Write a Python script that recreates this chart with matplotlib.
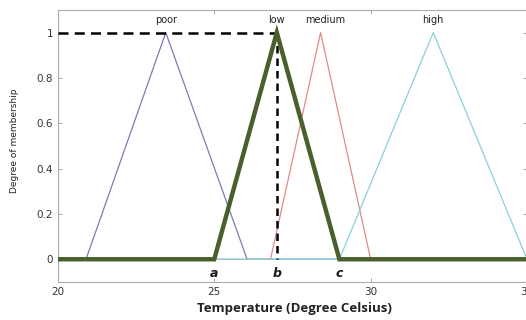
import numpy as np
import matplotlib
matplotlib.use('Agg')
import matplotlib.pyplot as plt

# membership functions (a, peak, c) in degrees Celsius
x_range = [20, 35]
mf_names = ['poor', 'low', 'medium', 'high']
mf_params = [[20.9, 23.45, 26.05], [25, 27, 29], [26.8, 28.4, 30], [29, 32, 35]]
mf_colors = ['#7b7bb8', '#4b5f2c', '#e08a8a', '#86d2dc']
point_labels = ['a', 'b', 'c']
y_ticks = [0, 0.2, 0.4, 0.6, 0.8, 1]
x_ticks = [20, 25, 30, 35]


def tri_points(p):
	a, b, c = p
	xs = [x_range[0], a, b, c, x_range[1]]
	ys = [0, 0, 1, 0, 0]
	return xs, ys


fig = plt.figure(figsize=(5.26, 3.2), dpi=100)
ax = fig.add_axes([0.110, 0.119, 0.892, 0.850])

# thin triangles first, thick "low" on top
order = [0, 2, 3, 1]
for i in order:
	xs, ys = tri_points(mf_params[i])
	if mf_names[i] == 'low':
		ax.plot(xs, ys, color=mf_colors[i], lw=3.2, zorder=4, solid_joinstyle='miter')
	else:
		ax.plot(xs, ys, color=mf_colors[i], lw=0.9, zorder=2)

# dashed guides to the peak of "low"
b = mf_params[1][1]
ax.plot([x_range[0], b], [1, 1], color='black', lw=1.8, ls=(0, (4, 2.5)), zorder=3)
ax.plot([b, b], [1, 0], color='black', lw=1.8, ls=(0, (3, 2)), zorder=3)

label_x = {'poor': 23.45, 'low': 27.0, 'medium': 28.55, 'high': 32.0}
for name in mf_names:
	ax.text(label_x[name], 1.035, name, ha='center', va='bottom', fontsize=7, color='#222222')

for lbl, xv in zip(point_labels, mf_params[1]):
	ax.text(xv, -0.035, lbl, ha='center', va='top', fontsize=9,
			fontweight='bold', fontstyle='italic', color='#1a1a1a')

ax.set_xlim(x_range)
ax.set_ylim(-0.1, 1.1)
ax.set_xticks(x_ticks)
ax.set_yticks(y_ticks)
ax.set_yticklabels(['0', '0.2', '0.4', '0.6', '0.8', '1'])
ax.tick_params(direction='in', length=3, width=0.6, colors='#999999', labelcolor='#333333',
			   labelsize=7.5, top=True, right=True)
for s in ax.spines.values():
	s.set_color('#aaaaaa')
	s.set_linewidth(0.8)

ax.set_ylabel('Degree of membership', fontsize=6.5, color='#222222')
ax.yaxis.set_label_coords(-0.082, 0.52)
ax.set_xlabel('Temperature (Degree Celsius)', fontsize=9.5, fontweight='bold',
			  color='#222222', family='Open Sans')
ax.xaxis.set_label_coords(0.505, -0.075)

fig.savefig('out.png', dpi=100)
